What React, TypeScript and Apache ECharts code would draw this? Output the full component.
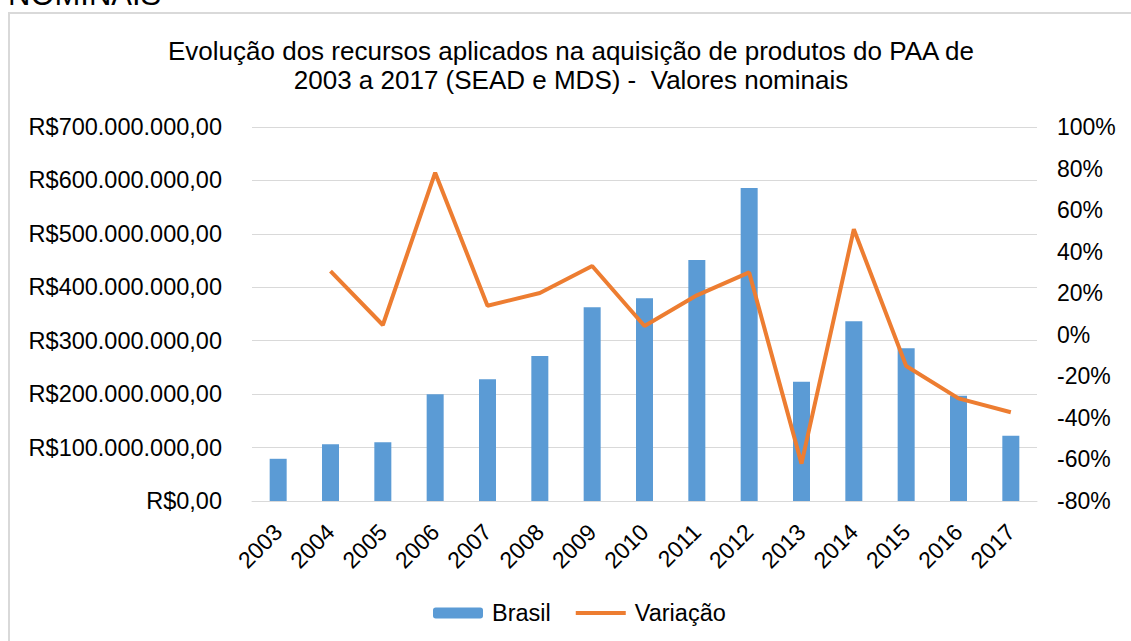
import React, { useEffect, useRef } from "react";
import * as echarts from "echarts";

const years = ["2003", "2004", "2005", "2006", "2007", "2008", "2009", "2010", "2011", "2012", "2013", "2014", "2015", "2016", "2017"];
const brasil = [79e6, 106e6, 110e6, 200e6, 228e6, 271.5e6, 362.7e6, 379.6e6, 451e6, 586e6, 223e6, 336.5e6, 286e6, 197e6, 122e6];
const variacao = [null, 30.6, 4.7, 78, 14, 20.1, 33.1, 4.2, 19, 30, -62, 50.8, -15, -30.6, -37.3];
const titleText = "Evolução dos recursos aplicados na aquisição de produtos do PAA de\n2003 a 2017 (SEAD e MDS) -  Valores nominais";
const headerText = "NOMINAIS";

const FONT = "'Liberation Sans', Arial, sans-serif";

function fmtBRL(v: number): string {
  const s = Math.round(v).toString().replace(/\B(?=(\d{3})+(?!\d))/g, ".");
  return "R$" + s + ",00";
}

export default function App() {
  const ref = useRef<HTMLDivElement>(null);
  useEffect(() => {
    if (!ref.current) return;
    const chart = echarts.init(ref.current, null, { renderer: "svg" });
    chart.setOption({
      animation: false,
      backgroundColor: "#fff",
      textStyle: { fontFamily: FONT },
      graphic: [
        {
          type: "rect",
          shape: { x: 9, y: 13, width: 1200, height: 700 },
          style: { fill: "none", stroke: "#d9d9d9", lineWidth: 2 },
          silent: true,
        },
        {
          type: "text",
          x: 8,
          y: -6,
          style: { text: headerText, font: `31px ${FONT}`, fill: "#000", textVerticalAlign: "middle" },
          silent: true,
        },
      ],
      title: {
        text: titleText,
        left: 566,
        top: 31,
        textAlign: "center",
        textStyle: { fontFamily: FONT, fontSize: 26, fontWeight: "normal", color: "#000", lineHeight: 29 },
      },
      legend: {
        data: [
          { name: "Brasil" },
          { name: "Variação", icon: "path://M0,0 L50,0 L50,4 L0,4 Z" },
        ],
        left: 428,
        top: 596,
        itemWidth: 50,
        itemHeight: 11,
        itemGap: 25,
        textStyle: { fontFamily: FONT, fontSize: 23.5, color: "#000", padding: [0, 0, 0, 4] },
      },
      grid: { left: 252, right: 94, top: 127, bottom: 140, containLabel: false },
      xAxis: {
        type: "category",
        data: years,
        axisLine: { show: true, lineStyle: { color: "#d9d9d9", width: 1 } },
        axisTick: { show: false },
        axisLabel: { rotate: 45, fontSize: 23, color: "#000", margin: 27, fontFamily: FONT },
      },
      yAxis: [
        {
          type: "value",
          min: 0,
          max: 700e6,
          interval: 100e6,
          axisLine: { show: false },
          axisTick: { show: false },
          splitLine: { lineStyle: { color: "#d9d9d9", width: 1 } },
          axisLabel: { formatter: (v: number) => fmtBRL(v), fontSize: 23.5, color: "#000", margin: 30, fontFamily: FONT },
        },
        {
          type: "value",
          min: -80,
          max: 100,
          interval: 20,
          position: "right",
          axisLine: { show: false },
          axisTick: { show: false },
          splitLine: { show: false },
          axisLabel: { formatter: (v: number) => `${v}%`, fontSize: 23, color: "#000", margin: 20, fontFamily: FONT },
        },
      ],
      series: [
        {
          name: "Brasil",
          type: "bar",
          data: brasil,
          barWidth: 17,
          itemStyle: { color: "#5B9BD5" },
          yAxisIndex: 0,
        },
        {
          name: "Variação",
          type: "line",
          data: variacao,
          yAxisIndex: 1,
          symbol: "none",
          showSymbol: false,
          lineStyle: { color: "#ED7D31", width: 4 },
          itemStyle: { color: "#ED7D31" },
        },
      ],
    });
    return () => chart.dispose();
  }, []);
  return (
    <div
      ref={ref}
      style={{ position: "fixed", left: 0, top: 0, width: 1131, height: 641 }}
    />
  );
}
